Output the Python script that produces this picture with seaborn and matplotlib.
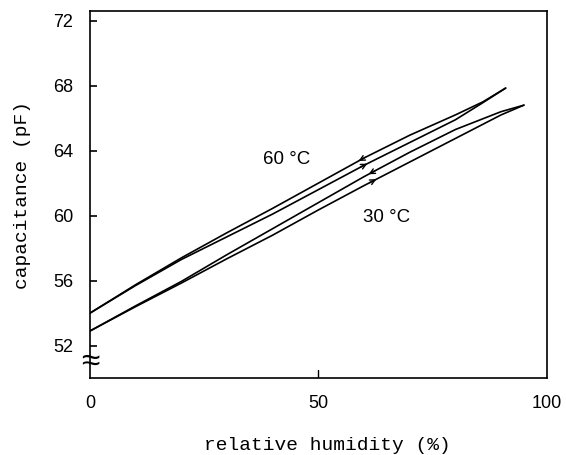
import numpy as np
import pandas as pd
import matplotlib
matplotlib.use('Agg')
import matplotlib.pyplot as plt
import seaborn as sns

# two hysteresis loops (up / down branch)
rh_60_up = [0, 10, 20, 30, 40, 50, 60, 70, 80, 86, 91]
cap_60_up = [54.0, 55.75, 57.4, 58.95, 60.45, 62.0, 63.55, 64.95, 66.2, 67.0, 67.85]
rh_60_dn = [0, 10, 20, 30, 40, 50, 60, 70, 80, 86, 91]
cap_60_dn = [54.0, 55.7, 57.3, 58.7, 60.1, 61.6, 63.1, 64.5, 65.9, 66.95, 67.85]

rh_30_up = [0, 10, 20, 30, 40, 50, 60, 70, 80, 90, 95]
cap_30_up = [52.9, 54.45, 55.95, 57.6, 59.2, 60.8, 62.4, 63.9, 65.3, 66.4, 66.8]
rh_30_dn = [0, 10, 20, 30, 40, 50, 60, 70, 80, 90, 95]
cap_30_dn = [52.9, 54.4, 55.85, 57.35, 58.8, 60.35, 61.85, 63.3, 64.75, 66.2, 66.8]

yticks = [52, 56, 60, 64, 68, 72]
xticks = [0, 50, 100]

sns.set_style('white')
plt.rcParams['font.family'] = ['Liberation Sans', 'DejaVu Sans']
plt.rcParams['text.color'] = 'black'
plt.rcParams['axes.labelcolor'] = 'black'
plt.rcParams['xtick.color'] = 'black'
plt.rcParams['ytick.color'] = 'black'

fig = plt.figure(figsize=(5.66, 4.55), dpi=100)
ax = fig.add_axes([0.159, 0.169, 0.807, 0.807])

branches = [(rh_60_up, cap_60_up), (rh_60_dn, cap_60_dn),
            (rh_30_up, cap_30_up), (rh_30_dn, cap_30_dn)]
for xs, ys in branches:
    df = pd.DataFrame({'rh': xs, 'cap': ys})
    sns.lineplot(data=df, x='rh', y='cap', sort=False, estimator=None,
                 color='black', lw=1.2, ax=ax)

# little direction arrows on each branch (upper branch runs back, lower forward)
arrows = [(rh_60_up, cap_60_up, 58.8, -1), (rh_60_dn, cap_60_dn, 60.7, 1),
          (rh_30_up, cap_30_up, 61.0, -1), (rh_30_dn, cap_30_dn, 62.7, 1)]
for xs, ys, xa, d in arrows:
    x0 = xa - d * 1.5
    ax.annotate('', xy=(xa, np.interp(xa, xs, ys)), xytext=(x0, np.interp(x0, xs, ys)),
                arrowprops=dict(arrowstyle='->', lw=1.0, color='black',
                                mutation_scale=9, shrinkA=0, shrinkB=0))

ax.text(43, 63.45, '60 \u00b0C', ha='center', va='center', fontsize=13.5)
ax.text(65, 59.9, '30 \u00b0C', ha='center', va='center', fontsize=13.5)

ax.set_xlim(0, 100)
ax.set_ylim(50.0, 72.6)
ax.set_yticks(yticks)
ax.set_xticks(xticks)
ax.tick_params(axis='both', direction='in', labelsize=13, pad=12, width=1.2, length=5,
               colors='black')
ax.tick_params(axis='y', left=True)
ax.tick_params(axis='x', length=0)
ax.plot([50, 50], [50.0, 50.5], color='black', lw=1)

for s in ax.spines.values():
    s.set_color('black')
    s.set_linewidth(1.2)

# axis break mark
ax.text(0, 51.0, '\u2248', transform=ax.transData, ha='center', va='center',
        fontsize=24, clip_on=False)

ax.set_xlabel('relative humidity (%)', family='Liberation Mono', fontsize=14)
ax.set_ylabel('capacitance (pF)', family='Liberation Mono', fontsize=14, labelpad=16)
ax.xaxis.set_label_coords(0.52, -0.16)

fig.savefig('out.png', dpi=100)
